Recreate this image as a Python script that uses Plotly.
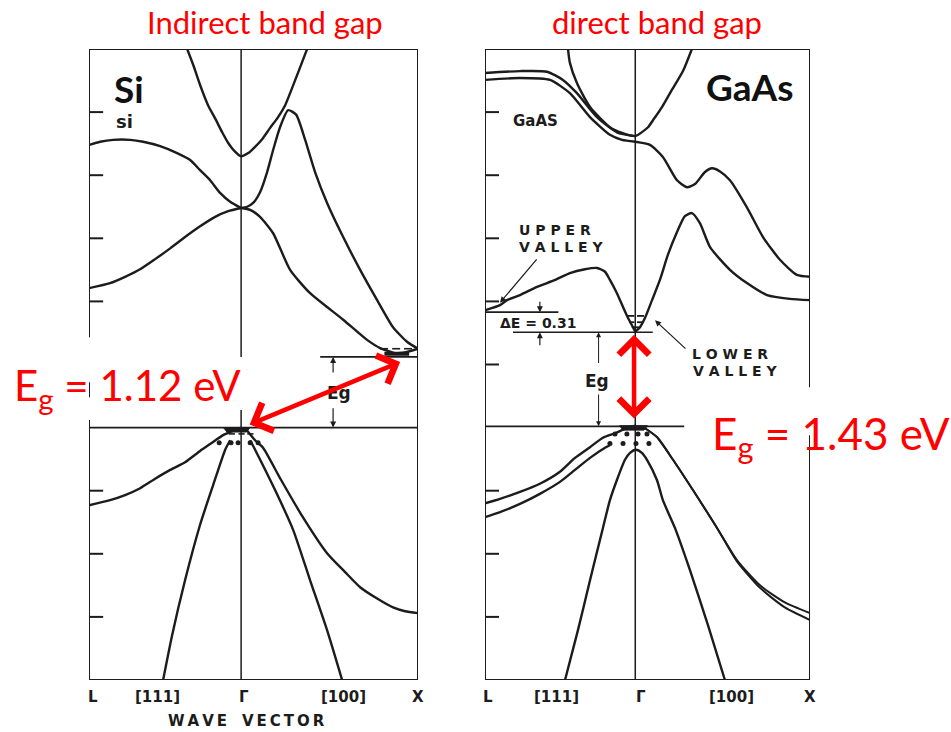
import plotly.graph_objects as go

# ---------------- axes conventions ----------------
# k : L = -0.86, Gamma = 0, X = 1  (reduced wave vector along [111] and [100])
# E : eV, valence-band maximum = 0
L_K, G_K, X_K = -0.86, 0.0, 1.0
E_MIN, E_MAX = -4.0, 6.0
TICK_E = [-3, -2, -1, 1, 2, 3, 4, 5]

# ---------------- Si bands ----------------
si_cb1_k = [-0.305, -0.271, -0.232, -0.187, -0.147, -0.107, -0.073, -0.040, 0.0, 0.040, 0.079, 0.119, 0.164, 0.209, 0.249, 0.288, 0.328, 0.373]
si_cb1_E = [6.00, 5.75, 5.43, 5.11, 4.90, 4.68, 4.51, 4.39, 4.30, 4.35, 4.45, 4.57, 4.75, 4.92, 5.11, 5.38, 5.67, 6.00]

si_cb2_k = [0.0, 0.034, 0.068, 0.107, 0.147, 0.181, 0.220, 0.266, 0.311, 0.362, 0.418, 0.486, 0.577, 0.673, 0.769, 0.859, 0.938, 1.0]
si_cb2_E = [3.48, 3.50, 3.56, 3.73, 4.05, 4.40, 4.76, 5.03, 4.96, 4.56, 4.05, 3.56, 3.02, 2.50, 2.02, 1.59, 1.36, 1.25]

si_cb3_k = [-0.86, -0.797, -0.724, -0.627, -0.554, -0.458, -0.362, -0.288, -0.232, -0.175, -0.119, -0.062, 0.0]
si_cb3_E = [4.48, 4.53, 4.56, 4.56, 4.53, 4.46, 4.35, 4.24, 4.08, 3.92, 3.72, 3.58, 3.48]

si_cb4_k = [-0.86, -0.741, -0.656, -0.571, -0.486, -0.401, -0.317, -0.232, -0.147, -0.073, 0.0]
si_cb4_E = [2.21, 2.29, 2.39, 2.51, 2.67, 2.84, 3.02, 3.19, 3.34, 3.43, 3.48]

si_cb5_k = [0.0, 0.051, 0.107, 0.181, 0.277, 0.390, 0.577, 0.712, 0.786, 0.871, 0.927, 1.0]
si_cb5_E = [3.48, 3.45, 3.34, 3.08, 2.50, 2.13, 1.71, 1.39, 1.26, 1.18, 1.19, 1.25]

si_vb1_k = [0.0, -0.062, -0.102, -0.175, -0.232, -0.317, -0.401, -0.486, -0.571, -0.656, -0.741, -0.86]
si_vb1_E = [0.0, -0.07, -0.12, -0.26, -0.37, -0.55, -0.67, -0.81, -0.96, -1.07, -1.15, -1.23]

si_vb2_k = [-0.062, -0.090, -0.158, -0.232, -0.317, -0.390, -0.441]
si_vb2_E = [-0.20, -0.35, -0.91, -1.54, -2.42, -3.29, -4.00]

si_vb3_k = [0.051, 0.079, 0.192, 0.294, 0.390, 0.486, 0.571]
si_vb3_E = [-0.20, -0.35, -0.99, -1.62, -2.42, -3.21, -4.00]

si_vb4_k = [0.023, 0.079, 0.124, 0.220, 0.334, 0.486, 0.588, 0.673, 0.769, 0.859, 0.927, 1.0]
si_vb4_E = [-0.01, -0.20, -0.32, -0.80, -1.35, -1.99, -2.29, -2.53, -2.71, -2.85, -2.91, -2.94]

# ---------------- GaAs bands ----------------
gaas_cb1_k = [-0.385, -0.374, -0.334, -0.259, -0.145, -0.076, 0.0, 0.073, 0.101, 0.153, 0.199, 0.273, 0.324]
gaas_cb1_E = [6.00, 5.78, 5.46, 5.08, 4.76, 4.67, 4.62, 4.76, 4.87, 5.08, 5.30, 5.65, 6.00]

gaas_cb2_k = [-0.86, -0.660, -0.505, -0.414, -0.334, -0.219, -0.105, 0.0]
gaas_cb2_E = [5.62, 5.65, 5.64, 5.51, 5.30, 4.92, 4.68, 4.62]

gaas_cb3_k = [-0.86, -0.660, -0.488, -0.374, -0.259, -0.145, -0.076, 0.0]
gaas_cb3_E = [5.51, 5.54, 5.51, 5.30, 4.92, 4.64, 4.56, 4.53]

gaas_cb4_k = [0.0, 0.084, 0.158, 0.239, 0.296, 0.342, 0.399, 0.439, 0.485, 0.542, 0.639, 0.731, 0.828, 0.925, 1.0]
gaas_cb4_E = [4.53, 4.48, 4.29, 3.92, 3.81, 3.86, 4.05, 4.11, 4.06, 3.92, 3.49, 3.02, 2.66, 2.42, 2.39]

gaas_cb5_k = [-0.86, -0.774, -0.734, -0.660, -0.562, -0.459, -0.374, -0.288, -0.219, -0.173, -0.145, -0.105, -0.070, -0.042, -0.013, 0.0]
gaas_cb5_E = [1.86, 1.94, 2.02, 2.10, 2.23, 2.34, 2.45, 2.51, 2.53, 2.47, 2.34, 2.13, 1.91, 1.74, 1.59, 1.52]

gaas_cb6_k = [0.0, 0.027, 0.056, 0.096, 0.141, 0.187, 0.239, 0.284, 0.324, 0.370, 0.428, 0.542, 0.639, 0.754, 0.885, 1.0]
gaas_cb6_E = [1.52, 1.59, 1.74, 2.02, 2.34, 2.74, 3.10, 3.35, 3.40, 3.24, 2.86, 2.50, 2.29, 2.10, 2.04, 2.02]

gaas_vb1_k = [0.0, -0.059, -0.116, -0.185, -0.259, -0.345, -0.431, -0.546, -0.660, -0.774, -0.86]
gaas_vb1_E = [0.03, -0.02, -0.09, -0.16, -0.31, -0.48, -0.70, -0.89, -1.02, -1.13, -1.20]

gaas_vb2_k = [-0.145, -0.173, -0.259, -0.345, -0.431, -0.546, -0.660, -0.774, -0.86]
gaas_vb2_E = [-0.28, -0.32, -0.48, -0.67, -0.86, -1.05, -1.21, -1.34, -1.42]

gaas_vb3_k = [-0.402, -0.328, -0.259, -0.185, -0.145, -0.105, -0.059, -0.030, 0.004, 0.038, 0.067, 0.124, 0.158, 0.227, 0.313, 0.416, 0.513]
gaas_vb3_E = [-4.00, -3.21, -2.42, -1.59, -1.15, -0.83, -0.51, -0.40, -0.35, -0.40, -0.51, -0.83, -1.15, -1.59, -2.26, -3.13, -4.00]

gaas_vb4_k = [0.056, 0.124, 0.216, 0.330, 0.468, 0.582, 0.714, 0.856, 1.0]
gaas_vb4_E = [-0.01, -0.15, -0.51, -0.99, -1.59, -2.10, -2.50, -2.77, -2.94]

gaas_vb5_k = [0.056, 0.124, 0.216, 0.330, 0.468, 0.582, 0.714, 0.856, 1.0]
gaas_vb5_E = [-0.01, -0.15, -0.51, -0.99, -1.59, -2.12, -2.54, -2.85, -3.05]

# ---------------- carriers (holes as dots, electrons as dashes) ----------------
si_hole_k = [-0.124, -0.057, -0.017, 0.051, 0.096]
si_hole_E = [-0.24, -0.24, -0.24, -0.24, -0.24]
si_cap_k = [-0.10, 0.05, 0.03, -0.08, -0.10]
si_cap_E = [0.0, 0.0, -0.07, -0.07, 0.0]
si_hole_dash_k = [-0.07, -0.035, None, -0.015, 0.02, None, 0.035, 0.07]
si_hole_dash_E = [-0.10, -0.10, None, -0.10, -0.10, None, -0.10, -0.10]
si_elec_dash_k = [0.786, 0.831, None, 0.854, 0.899, None, 0.921, 0.966]
si_elec_dash_E = [1.25, 1.25, None, 1.25, 1.25, None, 1.25, 1.25]
si_elec_cap_k = [0.81, 0.95]
si_elec_cap_E = [1.17, 1.17]

gaas_hole_k = [-0.116, -0.048, 0.016, 0.067, -0.145, -0.070, 0.004, 0.078]
gaas_hole_E = [-0.10, -0.10, -0.10, -0.10, -0.25, -0.25, -0.25, -0.25]
gaas_cap_k = [-0.09, 0.07, 0.05, -0.07, -0.09]
gaas_cap_E = [0.03, 0.03, -0.04, -0.04, 0.03]
gaas_elec_dash_k = [-0.045, -0.005, None, 0.01, 0.05, None, -0.035, -0.005, None, 0.01, 0.04, None, -0.02, 0.025]
gaas_elec_dash_E = [1.77, 1.77, None, 1.77, 1.77, None, 1.67, 1.67, None, 1.67, 1.67, None, 1.59, 1.59]

# ---------------- energies of annotated levels ----------------
SI_EG = 1.12
GAAS_EC = 1.51
GAAS_EL = 1.83

# k-axis labels
k_labels = ["L", "[111]", "Γ", "[100]", "X"]
si_label_k = [-0.84, -0.475, 0.015, 0.58, 1.0]
gaas_label_k = [-0.84, -0.45, 0.03, 0.55, 1.0]

INK = "#1c1c1c"
RED = "#ff0000"
W, H = 951, 732


def px(x):
    return x / W


def py(y):
    return 1 - y / H


fig = go.Figure()


def band(k, E, xa, ya, width=2.4):
    fig.add_trace(go.Scatter(x=k, y=E, mode="lines", xaxis=xa, yaxis=ya,
                             line=dict(color=INK, width=width, shape="spline", smoothing=0.6),
                             hoverinfo="skip", showlegend=False))


for k, E in [(si_cb1_k, si_cb1_E), (si_cb2_k, si_cb2_E), (si_cb3_k, si_cb3_E),
             (si_cb4_k, si_cb4_E), (si_cb5_k, si_cb5_E), (si_vb1_k, si_vb1_E),
             (si_vb2_k, si_vb2_E), (si_vb3_k, si_vb3_E), (si_vb4_k, si_vb4_E)]:
    band(k, E, "x", "y")

for k, E in [(gaas_cb1_k, gaas_cb1_E), (gaas_cb2_k, gaas_cb2_E), (gaas_cb3_k, gaas_cb3_E),
             (gaas_cb4_k, gaas_cb4_E), (gaas_cb5_k, gaas_cb5_E), (gaas_cb6_k, gaas_cb6_E),
             (gaas_vb1_k, gaas_vb1_E), (gaas_vb2_k, gaas_vb2_E), (gaas_vb3_k, gaas_vb3_E)]:
    band(k, E, "x2", "y2")
band(gaas_vb4_k, gaas_vb4_E, "x2", "y2", 2.0)
band(gaas_vb5_k, gaas_vb5_E, "x2", "y2", 2.0)

# carriers
for xa, ya, hk, hE, ck, cE in [("x", "y", si_hole_k, si_hole_E, si_cap_k, si_cap_E),
                               ("x2", "y2", gaas_hole_k, gaas_hole_E, gaas_cap_k, gaas_cap_E)]:
    fig.add_trace(go.Scatter(x=hk, y=hE, mode="markers", xaxis=xa, yaxis=ya,
                             marker=dict(color=INK, size=5), hoverinfo="skip", showlegend=False))
    fig.add_trace(go.Scatter(x=ck, y=cE, mode="lines", fill="toself", fillcolor=INK, xaxis=xa, yaxis=ya,
                             line=dict(color=INK, width=1), hoverinfo="skip", showlegend=False))
for xa, ya, dk, dE, w in [("x", "y", si_hole_dash_k, si_hole_dash_E, 1.6),
                          ("x", "y", si_elec_dash_k, si_elec_dash_E, 1.6),
                          ("x", "y", si_elec_cap_k, si_elec_cap_E, 4),
                          ("x2", "y2", gaas_elec_dash_k, gaas_elec_dash_E, 1.8)]:
    fig.add_trace(go.Scatter(x=dk, y=dE, mode="lines", xaxis=xa, yaxis=ya,
                             line=dict(color=INK, width=w), hoverinfo="skip", showlegend=False))

# ---------------- frames, ticks, reference lines ----------------
shapes = []


def seg(xr, yr, x0, y0, x1, y1, w=2.0, color=INK, dash=None):
    shapes.append(dict(type="line", xref=xr, yref=yr, x0=x0, y0=y0, x1=x1, y1=y1,
                       line=dict(color=color, width=w, dash=dash), layer="above"))


si_left_visible = [(E_MIN, 0.12), (0.48, 0.72), (1.43, E_MAX)]
si_gamma_visible = [(E_MIN, 0.28), (1.12, E_MAX)]
gaas_right_visible = [(E_MIN, -0.12), (0.64, E_MAX)]

# Si panel
seg("x", "y", L_K, E_MAX, X_K, E_MAX)
seg("x", "y", L_K, E_MIN, X_K, E_MIN)
seg("x", "y", X_K, E_MIN, X_K, E_MAX)
for lo, hi in si_left_visible:
    seg("x", "y", L_K, lo, L_K, hi)
for e in TICK_E:
    if any(lo <= e <= hi for lo, hi in si_left_visible):
        seg("x", "y", L_K, e, L_K + 0.08, e)
for lo, hi in si_gamma_visible:
    seg("x", "y", G_K, lo, G_K, hi, w=1.5)
seg("x", "y", L_K, 0, X_K, 0, w=1.8)
seg("x", "y", 0.447, SI_EG, X_K, SI_EG, w=1.8)

# GaAs panel
seg("x2", "y2", L_K, E_MAX, X_K, E_MAX)
seg("x2", "y2", L_K, E_MIN, X_K, E_MIN)
seg("x2", "y2", L_K, E_MIN, L_K, E_MAX)
for lo, hi in gaas_right_visible:
    seg("x2", "y2", X_K, lo, X_K, hi)
for e in TICK_E:
    seg("x2", "y2", L_K, e, L_K + 0.08, e)
seg("x2", "y2", G_K, E_MIN, G_K, E_MAX, w=1.5)
seg("x2", "y2", L_K, 0.02, 0.28, 0.02, w=1.8)
seg("x2", "y2", -0.70, GAAS_EC, 0.10, GAAS_EC, w=1.6)
seg("x2", "y2", L_K, GAAS_EL, -0.44, GAAS_EL, w=1.6)

# ---------------- annotations ----------------
annots = []
LAB = "DejaVu Sans"
RF = "Lato"


def txt(text, x, y, size, color=INK, family=LAB, weight="normal", xanchor="center", yanchor="middle"):
    annots.append(dict(text=text, x=px(x), y=py(y), xref="paper", yref="paper", showarrow=False,
                       xanchor=xanchor, yanchor=yanchor,
                       font=dict(family=family, size=size, color=color, weight=weight)))


def arrow(xr, yr, hx, hy, tx, ty, color=INK, width=1.2, head=2, size=1.0, both=False):
    a = dict(text="", xref=xr, yref=yr, x=hx, y=hy, axref=xr, ayref=yr, ax=tx, ay=ty,
             showarrow=True, arrowhead=head, arrowsize=size, arrowwidth=width, arrowcolor=color,
             standoff=0, startstandoff=0)
    if both:
        a.update(arrowside="end+start", startarrowhead=head, startarrowsize=size)
    annots.append(a)


def sp(s):
    return " ".join(s)


# titles
txt("Indirect band gap", 265, 22, 31, RED, RF)
txt("direct band gap", 657, 22, 31, RED, RF)

# material labels
txt("Si", 129, 88, 37, "#111", RF, "bold")
txt("si", 125, 122, 18, INK, LAB, "bold")
txt("GaAs", 750, 87, 37, "#111", RF, "bold")
txt("GaAS", 535, 121, 15, INK, LAB, "bold")

# level labels
txt("Eg", 339, 393, 17, INK, LAB, "bold")
txt("Eg", 597, 381, 17, INK, LAB, "bold")
txt("ΔE = 0.31", 538, 323, 14, INK, LAB, "bold")
txt(sp("UPPER"), 517, 230, 14, INK, LAB, "bold", xanchor="left")
txt(sp("VALLEY"), 517, 247, 14, INK, LAB, "bold", xanchor="left")
txt(sp("LOWER"), 690, 354, 14, INK, LAB, "bold", xanchor="left")
txt(sp("VALLEY"), 691, 371, 14, INK, LAB, "bold", xanchor="left")

# k-axis labels
for xr, ks in [("x", si_label_k), ("x2", gaas_label_k)]:
    for lab, k in zip(k_labels, ks):
        annots.append(dict(text=lab, x=k, y=py(697), xref=xr, yref="paper", showarrow=False,
                           xanchor="center", yanchor="middle",
                           font=dict(family=LAB, size=15, color=INK, weight="bold")))
txt("W\u2009A\u2009V\u2009E\u2003V\u2009E\u2009C\u2009T\u2009O\u2009R", 246, 721, 15, INK, LAB, "bold")

# black level arrows
arrow("x", "y", 0.52, SI_EG, 0.52, 0.85)
arrow("x", "y", 0.52, 0.0, 0.52, 0.33)
arrow("x2", "y2", -0.21, GAAS_EC, -0.21, 1.0, width=1.0)
arrow("x2", "y2", -0.21, 0.02, -0.21, 0.55, width=1.0)
arrow("x2", "y2", -0.546, GAAS_EL, -0.546, 2.02)
arrow("x2", "y2", -0.546, GAAS_EC, -0.546, 1.28)
arrow("x2", "y2", -0.774, 1.98, -0.557, 2.69)
arrow("x2", "y2", 0.113, 1.70, 0.296, 1.23)

# red E_g labels
txt("E<sub>g</sub> = 1.12 eV", 12, 388, 42, RED, RF, xanchor="left")
txt("E<sub>g</sub> = 1.43 eV", 710, 436, 44, RED, RF, xanchor="left")

# red gap arrows
arrow("x", "y", 0.899, 1.04, 0.040, 0.04, color=RED, width=4.5, head=4, size=1.3, both=True)
arrow("x2", "y2", -0.007, 1.47, -0.007, 0.12, color=RED, width=4.5, head=4, size=1.3, both=True)

fig.update_layout(
    width=W, height=H, margin=dict(l=0, r=0, t=0, b=0),
    paper_bgcolor="white", plot_bgcolor="rgba(0,0,0,0)",
    showlegend=False, shapes=shapes, annotations=annots,
    xaxis=dict(domain=[px(89), px(418)], range=[L_K, X_K], visible=False, anchor="y"),
    yaxis=dict(domain=[py(680), py(49)], range=[E_MIN, E_MAX], visible=False, anchor="x"),
    xaxis2=dict(domain=[px(485), px(810)], range=[L_K, X_K], visible=False, anchor="y2"),
    yaxis2=dict(domain=[py(680), py(49)], range=[E_MIN, E_MAX], visible=False, anchor="x2"),
)

fig.write_html("out.html")
